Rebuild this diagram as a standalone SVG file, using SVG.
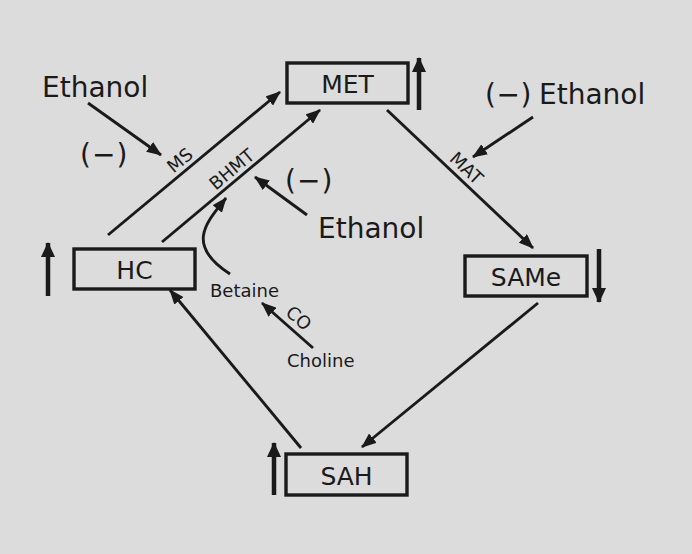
<svg xmlns="http://www.w3.org/2000/svg" width="692" height="554" viewBox="0 0 692 554">
<style>
.bg{fill:#dcdcdc}
.box{fill:none;stroke:#1a1a1a;stroke-width:3.4}
.ln{fill:none;stroke:#1a1a1a;stroke-width:2.9;marker-end:url(#ah)}
.thick{fill:none;stroke:#1a1a1a;stroke-width:4.5;marker-end:url(#bh)}
text{font-family:"DejaVu Sans",sans-serif;fill:#1a1a1a}
.big{font-size:28px}
.node{font-size:25px;text-anchor:middle}
.sm{font-size:18px}
.enz{font-size:18px;text-anchor:middle}
</style>
<defs>
<marker id="ah" markerUnits="userSpaceOnUse" markerWidth="15" markerHeight="12" viewBox="0 0 15 12" refX="14" refY="6" orient="auto">
<path d="M0,0 L15,6 L0,12 z" fill="#1a1a1a"/>
</marker>
<marker id="bh" markerUnits="userSpaceOnUse" markerWidth="15" markerHeight="14" viewBox="0 0 15 14" refX="14" refY="7" orient="auto">
<path d="M0,0 L15,7 L0,14 z" fill="#1a1a1a"/>
</marker>
</defs>
<rect class="bg" x="0" y="0" width="692" height="554"/>

<g id="connectors">
<line class="ln" x1="108" y1="235" x2="280" y2="92"/>
<line class="ln" x1="162" y1="242" x2="320" y2="110"/>
<line class="ln" x1="387" y1="110" x2="533" y2="248"/>
<line class="ln" x1="538" y1="303" x2="362" y2="447"/>
<line class="ln" x1="301" y1="448" x2="170" y2="290"/>
<line class="ln" x1="313" y1="348" x2="262" y2="303"/>
<path class="ln" d="M230,274 C185,245 206,223 226,198"/>
<line class="ln" x1="88" y1="103" x2="161" y2="155"/>
<line class="ln" x1="307" y1="215" x2="255" y2="177"/>
<line class="ln" x1="533" y1="117" x2="473" y2="157"/>
<line class="thick" x1="48" y1="296" x2="48" y2="243"/>
<line class="thick" x1="419" y1="110" x2="419" y2="58"/>
<line class="thick" x1="274" y1="495" x2="274" y2="443"/>
<line class="thick" x1="599" y1="249" x2="599" y2="302"/>
</g>

<g id="enzyme-labels">
<text class="enz" transform="translate(187,169) rotate(-39.7)" y="-5">MS</text>
<text class="enz" transform="translate(239,178) rotate(-39.9)" y="-5">BHMT</text>
<text class="enz" transform="translate(458,177) rotate(43.4)" y="-6">MAT</text>
<text class="enz" transform="translate(290,328) rotate(41.4)" y="-7">CO</text>
</g>

<g id="node-MET">
<rect class="box" x="287" y="63" width="121" height="40"/>
<text class="node" x="347.5" y="93">MET</text>
</g>
<g id="node-HC">
<rect class="box" x="74" y="249" width="121" height="40"/>
<text class="node" x="134.5" y="279">HC</text>
</g>
<g id="node-SAMe">
<rect class="box" x="465" y="256" width="122" height="40"/>
<text class="node" x="526" y="286">SAMe</text>
</g>
<g id="node-SAH">
<rect class="box" x="286" y="454" width="121" height="41"/>
<text class="node" x="346.5" y="485">SAH</text>
</g>

<g id="node-ethanol1">
<text class="big" x="42" y="97">Ethanol</text>
<text class="big" x="80" y="164" letter-spacing="1">(−)</text>
</g>
<g id="node-ethanol2">
<text class="big" x="285" y="190" letter-spacing="1">(−)</text>
<text class="big" x="318" y="238">Ethanol</text>
</g>
<g id="node-ethanol3">
<text class="big" x="485" y="104" letter-spacing="0.5">(−)</text>
<text class="big" x="539" y="104">Ethanol</text>
</g>
<g id="node-betaine">
<text class="sm" x="210" y="297">Betaine</text>
</g>
<g id="node-choline">
<text class="sm" x="287" y="367">Choline</text>
</g>
</svg>
